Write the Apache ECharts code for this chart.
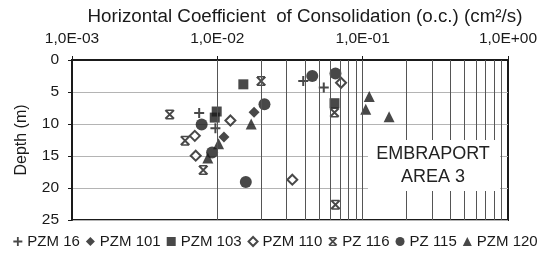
<!DOCTYPE html>
<html><head><meta charset="utf-8">
<script src="https://cdn.jsdelivr.net/npm/echarts@6/dist/echarts.min.js"></script>
<style>html,body{margin:0;padding:0;background:#fff}#c{width:551px;height:255px}</style>
</head><body><div id="c"></div>
<script>
// ---- data (x = Ch in cm²/s, y = depth in m) ----
const seriesNames = ['PZM 16','PZM 101','PZM 103','PZM 110','PZ 116','PZ 115','PZM 120'];
const pzm16  = [[0.0075,8.3],[0.0097,10.65],[0.039,3.3],[0.054,4.3]];
const pzm101 = [[0.0179,8.15],[0.0111,12.05]];
const pzm103 = [[0.0151,3.8],[0.0099,8.05],[0.0096,9.0],[0.064,6.75]];
const pzm110 = [[0.0123,9.45],[0.0070,11.85],[0.0071,14.95],[0.071,3.55],[0.0328,18.7]];
const pz116  = [[0.020,3.3],[0.0047,8.5],[0.0060,12.6],[0.0080,17.2],[0.064,8.2],[0.065,22.6]];
const pz115  = [[0.0211,6.9],[0.0078,10.07],[0.0092,14.45],[0.0157,19.05],[0.045,2.5],[0.065,2.1]];
const pzm120 = [[0.0171,10.0],[0.0102,13.1],[0.0086,15.3],[0.111,5.7],[0.105,7.7],[0.152,8.85]];
const xTickLabels = ['1,0E-03','1,0E-02','1,0E-01','1,0E+00'];
const yTickValues = [0,5,10,15,20,25];
const xTitle = 'Horizontal Coefficient  of Consolidation (o.c.) (cm²/s)';
const yTitle = 'Depth (m)';
const boxText = 'EMBRAPORT\nAREA 3';

const FONT = '"Liberation Sans", Arial, Helvetica, sans-serif';
const INK = '#1a1a1a';
const PLUS = 'path://M4,0H6V4H10V6H6V10H4V6H0V4H4Z';
const XBAR = 'path://M0,1.4L1.4,0L10,8.6L8.6,10Z M8.6,0L10,1.4L1.4,10L0,8.6Z M1,0H9V1.5H1Z M1,8.5H9V10H1Z';

// vertical log grid lines at k*10^d
const gridX = [];
for (let d = -3; d <= -1; d++) for (let k = 1; k <= 9; k++) {
  const v = +(k * Math.pow(10, d)).toPrecision(3);
  if (v > 0.001) gridX.push(v);
}

const styles = [
  {data: pzm16,  symbol: PLUS, size: 10, item: {color: INK}},
  {data: pzm101, symbol: 'diamond', size: 11, item: {color: INK}},
  {data: pzm103, symbol: 'rect', size: 10, item: {color: INK}},
  {data: pzm110, symbol: 'diamond', size: 10, item: {color: '#fff', borderColor: INK, borderWidth: 2}},
  {data: pz116,  symbol: XBAR, size: 10, item: {color: INK}},
  {data: pz115,  symbol: 'circle', size: 12, item: {color: INK}},
  {data: pzm120, symbol: 'triangle', size: 11, item: {color: INK}}
];

const series = styles.map((s, i) => ({
  name: seriesNames[i], type: 'scatter', data: s.data, symbol: s.symbol,
  symbolSize: s.size, itemStyle: s.item, z: 3, animation: false
}));
series.unshift({
  name: 'grid', type: 'scatter', data: [], z: 1, silent: true, animation: false,
  markLine: {
    silent: true, symbol: ['none','none'], label: {show: false}, animation: false,
    lineStyle: {color: '#555', width: 1, type: 'solid'},
    emphasis: {disabled: true},
    data: gridX.map(v => ({xAxis: v}))
  }
});

const chart = echarts.init(document.getElementById('c'));
chart.setOption({
  backgroundColor: '#fff',
  animation: false,
  textStyle: {fontFamily: FONT, color: INK},
  grid: {left: 72, right: 43, top: 60, bottom: 35, show: true, borderColor: INK, borderWidth: 2, containLabel: false},
  xAxis: {
    type: 'log', logBase: 10, min: 0.001, max: 1, position: 'top',
    name: xTitle, nameLocation: 'middle', nameGap: 29.5,
    nameTextStyle: {fontSize: 18.8, color: INK, fontFamily: FONT, padding: [0,0,0,30]},
    axisLine: {show: true, lineStyle: {color: INK, width: 2}},
    axisTick: {show: true, length: 4, lineStyle: {color: INK}},
    axisLabel: {fontSize: 15.5, color: INK, fontFamily: FONT, margin: 13,
      formatter: v => xTickLabels[Math.round(Math.log10(v)) + 3]},
    splitLine: {show: false}
  },
  yAxis: {
    type: 'value', inverse: true, min: yTickValues[0], max: yTickValues[yTickValues.length-1], interval: 5,
    name: yTitle, nameLocation: 'middle', nameGap: 42, nameRotate: 90,
    nameTextStyle: {fontSize: 16, color: INK, fontFamily: FONT},
    axisLine: {show: true, lineStyle: {color: INK, width: 2}},
    axisTick: {show: true, length: 4, lineStyle: {color: INK}},
    axisLabel: {fontSize: 15.5, color: INK, fontFamily: FONT, margin: 13},
    splitLine: {show: true, lineStyle: {color: '#b4b4b4', width: 1}}
  },
  legend: {
    data: seriesNames, bottom: 6, left: 'center', padding: 0, itemWidth: 9, itemHeight: 9, itemGap: 6,
    textStyle: {fontSize: 15, color: INK, fontFamily: FONT}
  },
  graphic: [{
    type: 'group', z: 100,
    children: [
      {type: 'rect', shape: {x: 368, y: 140, width: 132, height: 51}, style: {fill: '#fff'}, z: 100},
      {type: 'text', x: 433, y: 166, z: 101,
        style: {text: boxText, fontSize: 18, fontFamily: FONT, fill: '#222', align: 'center', verticalAlign: 'middle', lineHeight: 23}}
    ]
  }],
  series: series
});
</script>
</body></html>
